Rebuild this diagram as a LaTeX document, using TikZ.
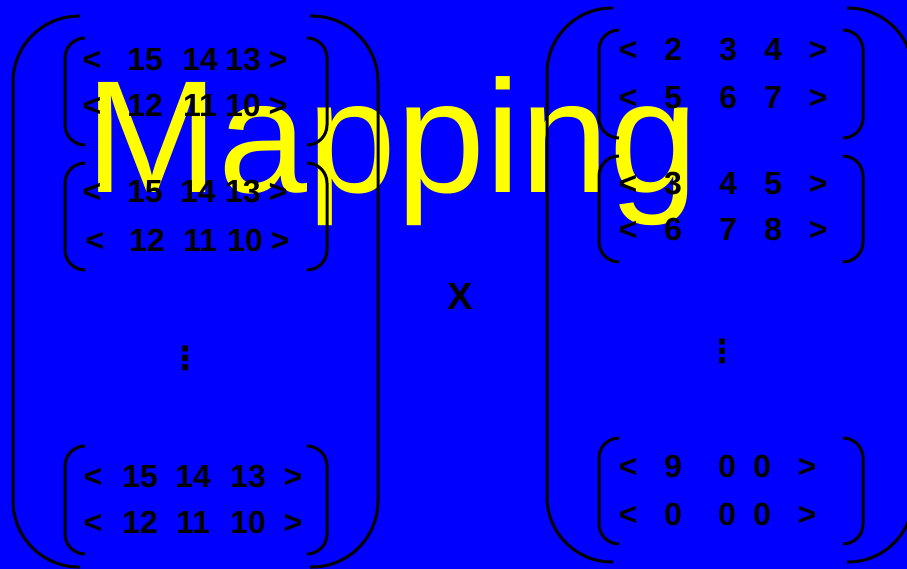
\documentclass[tikz,border=0pt]{standalone}
\usepackage{fontspec}
\setmainfont{Liberation Sans}
\newfontfamily\dejavu{DejaVu Sans}
\definecolor{bgblue}{RGB}{0,0,255}
\definecolor{mapyellow}{RGB}{255,255,0}
\newcommand\ibr[4]{%
  \draw[brk,rounded corners=20pt] (#1+20,#3) -- (#1,#3) -- (#1,#4) -- (#1+20,#4);
  \draw[brk,rounded corners=20pt] (#2-20,#3) -- (#2,#3) -- (#2,#4) -- (#2-20,#4);}
\newcommand\rowz[3]{\foreach \xx/\tx [count=\i] in {#3} \node[num] (#1-\i) at (\xx,#2) {\tx};}
\begin{document}
\begin{tikzpicture}[x=1pt,y=-1pt,
  brk/.style={draw=black,line width=3pt},
  num/.style={font=\fontsize{32}{32}\selectfont\bfseries,text=black,inner sep=0pt,anchor=base},
  vdot/.style={font=\fontsize{32}{32}\selectfont\dejavu\bfseries,text=black,inner sep=0pt}]
\fill[bgblue] (0,0) rectangle (907,569);
\useasboundingbox (0,0) rectangle (907,569);
\node[anchor=base west,inner sep=0pt,text=mapyellow,font=\fontsize{160}{160}\selectfont] (map) at (85,193) {Mapping};
% big parentheses
\draw[brk,rounded corners=66pt] (80,16) -- (13,16) -- (13,567) -- (80,567);
\draw[brk,rounded corners=66pt] (310,16) -- (378,16) -- (378,567) -- (310,567);
\draw[brk,rounded corners=65pt] (613,8) -- (547,8) -- (547,562) -- (613,562);
\draw[brk,rounded corners=65pt] (847,8) -- (913,8) -- (913,562) -- (847,562);
% inner brackets
\ibr{65}{327}{38}{145}
\ibr{65}{327}{163}{270}
\ibr{65}{327}{446}{554}
\ibr{599}{863}{30}{138}
\ibr{599}{863}{156}{262}
\ibr{599}{863}{438}{544}
% rows
\rowz{la1}{71}{92/<,145/15,200/14,243/13,278/>}
\rowz{lb1}{117}{92/<,145/12,200/11,243/10,278/>}
\rowz{la2}{203}{92/<,145/15,198/14,243/13,278/>}
\rowz{lb2}{252}{95/<,147/12,200/11,245/10,280/>}
\rowz{la3}{487}{93/<,140/15,193/14,248/13,293/>}
\rowz{lb3}{533}{93/<,140/12,193/11,248/10,293/>}
\rowz{ra1}{61}{628/<,673/2,728/3,773/4,818/>}
\rowz{rb1}{109}{628/<,673/5,728/6,773/7,818/>}
\rowz{ra2}{195}{628/<,673/3,728/4,773/5,818/>}
\rowz{rb2}{241}{628/<,673/6,728/7,773/8,818/>}
\rowz{ra3}{477}{628/<,673/9,727/0,762/0,807/>}
\rowz{rb3}{525}{628/<,673/0,727/0,762/0,807/>}
% dots and times
\node[vdot] (ldots) at (185,358) {⋮};
\node[vdot] (rdots) at (722,351) {⋮};
\node[num,font=\fontsize{38}{38}\selectfont\bfseries] (times) at (460,309) {X};
\end{tikzpicture}
\end{document}
